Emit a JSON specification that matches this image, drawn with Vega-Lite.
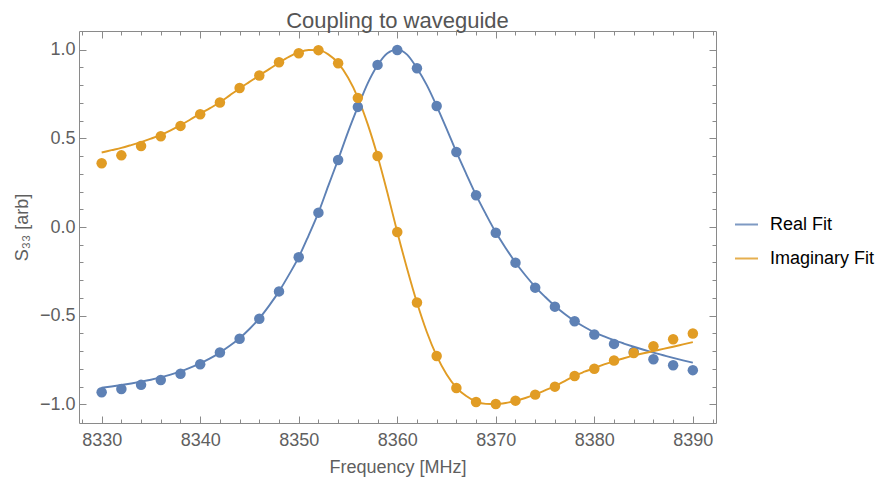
{
  "$schema": "https://vega.github.io/schema/vega-lite/v6.json",
  "width": 637,
  "height": 392,
  "autosize": {"type": "none"},
  "padding": {"left": 79, "top": 31, "right": 165, "bottom": 60},
  "background": "white",
  "title": {"text": "Coupling to waveguide", "fontSize": 22, "font": "Liberation Sans", "fontWeight": "normal", "color": "#555555", "anchor": "middle", "frame": "group", "baseline": "alphabetic", "offset": 4.5, "dy": 23.5},
  "config": {
    "view": {"stroke": "#8a8a8a", "strokeWidth": 1},
    "font": "Liberation Sans",
    "axis": {"grid": false, "domain": false, "tickColor": "#8a8a8a", "tickWidth": 1, "labelFont": "Liberation Sans", "labelFontSize": 18, "labelColor": "#5f5f5f", "titleFont": "Liberation Sans", "titleFontSize": 18, "titleFontWeight": "normal", "titleColor": "#5f5f5f", "labelOverlap": false, "labelFlush": false}
  },
  "datasets": {
    "fit": [
      {"f":8330,"v":-0.906,"s":"Real Fit"},{"f":8331,"v":-0.899,"s":"Real Fit"},{"f":8332,"v":-0.891,"s":"Real Fit"},{"f":8333,"v":-0.882,"s":"Real Fit"},{"f":8334,"v":-0.872,"s":"Real Fit"},{"f":8335,"v":-0.861,"s":"Real Fit"},{"f":8336,"v":-0.848,"s":"Real Fit"},{"f":8337,"v":-0.832,"s":"Real Fit"},{"f":8338,"v":-0.814,"s":"Real Fit"},{"f":8339,"v":-0.793,"s":"Real Fit"},
      {"f":8340,"v":-0.769,"s":"Real Fit"},{"f":8341,"v":-0.741,"s":"Real Fit"},{"f":8342,"v":-0.708,"s":"Real Fit"},{"f":8343,"v":-0.670,"s":"Real Fit"},{"f":8344,"v":-0.627,"s":"Real Fit"},{"f":8345,"v":-0.575,"s":"Real Fit"},{"f":8346,"v":-0.515,"s":"Real Fit"},{"f":8347,"v":-0.443,"s":"Real Fit"},{"f":8348,"v":-0.363,"s":"Real Fit"},{"f":8349,"v":-0.270,"s":"Real Fit"},
      {"f":8350,"v":-0.170,"s":"Real Fit"},{"f":8351,"v":-0.048,"s":"Real Fit"},{"f":8352,"v":0.081,"s":"Real Fit"},{"f":8353,"v":0.232,"s":"Real Fit"},{"f":8354,"v":0.380,"s":"Real Fit"},{"f":8355,"v":0.535,"s":"Real Fit"},{"f":8356,"v":0.677,"s":"Real Fit"},{"f":8357,"v":0.810,"s":"Real Fit"},{"f":8358,"v":0.912,"s":"Real Fit"},{"f":8359,"v":0.980,"s":"Real Fit"},
      {"f":8360,"v":1.0,"s":"Real Fit"},{"f":8361,"v":0.972,"s":"Real Fit"},{"f":8362,"v":0.895,"s":"Real Fit"},{"f":8363,"v":0.800,"s":"Real Fit"},{"f":8364,"v":0.682,"s":"Real Fit"},{"f":8365,"v":0.555,"s":"Real Fit"},{"f":8366,"v":0.423,"s":"Real Fit"},{"f":8367,"v":0.300,"s":"Real Fit"},{"f":8368,"v":0.180,"s":"Real Fit"},{"f":8369,"v":0.072,"s":"Real Fit"},
      {"f":8370,"v":-0.030,"s":"Real Fit"},{"f":8371,"v":-0.118,"s":"Real Fit"},{"f":8372,"v":-0.200,"s":"Real Fit"},{"f":8373,"v":-0.272,"s":"Real Fit"},{"f":8374,"v":-0.337,"s":"Real Fit"},{"f":8375,"v":-0.393,"s":"Real Fit"},{"f":8376,"v":-0.445,"s":"Real Fit"},{"f":8377,"v":-0.490,"s":"Real Fit"},{"f":8378,"v":-0.530,"s":"Real Fit"},{"f":8379,"v":-0.564,"s":"Real Fit"},
      {"f":8380,"v":-0.594,"s":"Real Fit"},{"f":8381,"v":-0.617,"s":"Real Fit"},{"f":8382,"v":-0.638,"s":"Real Fit"},{"f":8383,"v":-0.657,"s":"Real Fit"},{"f":8384,"v":-0.675,"s":"Real Fit"},{"f":8385,"v":-0.692,"s":"Real Fit"},{"f":8386,"v":-0.708,"s":"Real Fit"},{"f":8387,"v":-0.723,"s":"Real Fit"},{"f":8388,"v":-0.738,"s":"Real Fit"},{"f":8389,"v":-0.752,"s":"Real Fit"},
      {"f":8390,"v":-0.765,"s":"Real Fit"},
      {"f":8330,"v":0.420,"s":"Imaginary Fit"},{"f":8331,"v":0.433,"s":"Imaginary Fit"},{"f":8332,"v":0.446,"s":"Imaginary Fit"},{"f":8333,"v":0.462,"s":"Imaginary Fit"},{"f":8334,"v":0.479,"s":"Imaginary Fit"},{"f":8335,"v":0.498,"s":"Imaginary Fit"},{"f":8336,"v":0.519,"s":"Imaginary Fit"},{"f":8337,"v":0.545,"s":"Imaginary Fit"},{"f":8338,"v":0.574,"s":"Imaginary Fit"},{"f":8339,"v":0.606,"s":"Imaginary Fit"},
      {"f":8340,"v":0.639,"s":"Imaginary Fit"},{"f":8341,"v":0.670,"s":"Imaginary Fit"},{"f":8342,"v":0.703,"s":"Imaginary Fit"},{"f":8343,"v":0.742,"s":"Imaginary Fit"},{"f":8344,"v":0.781,"s":"Imaginary Fit"},{"f":8345,"v":0.818,"s":"Imaginary Fit"},{"f":8346,"v":0.855,"s":"Imaginary Fit"},{"f":8347,"v":0.890,"s":"Imaginary Fit"},{"f":8348,"v":0.926,"s":"Imaginary Fit"},{"f":8349,"v":0.959,"s":"Imaginary Fit"},
      {"f":8350,"v":0.984,"s":"Imaginary Fit"},{"f":8351,"v":0.998,"s":"Imaginary Fit"},{"f":8352,"v":0.997,"s":"Imaginary Fit"},{"f":8353,"v":0.973,"s":"Imaginary Fit"},{"f":8354,"v":0.924,"s":"Imaginary Fit"},{"f":8355,"v":0.843,"s":"Imaginary Fit"},{"f":8356,"v":0.730,"s":"Imaginary Fit"},{"f":8357,"v":0.580,"s":"Imaginary Fit"},{"f":8358,"v":0.400,"s":"Imaginary Fit"},{"f":8359,"v":0.193,"s":"Imaginary Fit"},
      {"f":8360,"v":-0.028,"s":"Imaginary Fit"},{"f":8361,"v":-0.235,"s":"Imaginary Fit"},{"f":8362,"v":-0.426,"s":"Imaginary Fit"},{"f":8363,"v":-0.592,"s":"Imaginary Fit"},{"f":8364,"v":-0.727,"s":"Imaginary Fit"},{"f":8365,"v":-0.830,"s":"Imaginary Fit"},{"f":8366,"v":-0.905,"s":"Imaginary Fit"},{"f":8367,"v":-0.953,"s":"Imaginary Fit"},{"f":8368,"v":-0.984,"s":"Imaginary Fit"},{"f":8369,"v":-0.997,"s":"Imaginary Fit"},
      {"f":8370,"v":-0.998,"s":"Imaginary Fit"},{"f":8371,"v":-0.992,"s":"Imaginary Fit"},{"f":8372,"v":-0.980,"s":"Imaginary Fit"},{"f":8373,"v":-0.964,"s":"Imaginary Fit"},{"f":8374,"v":-0.944,"s":"Imaginary Fit"},{"f":8375,"v":-0.921,"s":"Imaginary Fit"},{"f":8376,"v":-0.897,"s":"Imaginary Fit"},{"f":8377,"v":-0.869,"s":"Imaginary Fit"},{"f":8378,"v":-0.839,"s":"Imaginary Fit"},{"f":8379,"v":-0.816,"s":"Imaginary Fit"},
      {"f":8380,"v":-0.795,"s":"Imaginary Fit"},{"f":8381,"v":-0.775,"s":"Imaginary Fit"},{"f":8382,"v":-0.756,"s":"Imaginary Fit"},{"f":8383,"v":-0.740,"s":"Imaginary Fit"},{"f":8384,"v":-0.725,"s":"Imaginary Fit"},{"f":8385,"v":-0.712,"s":"Imaginary Fit"},{"f":8386,"v":-0.700,"s":"Imaginary Fit"},{"f":8387,"v":-0.687,"s":"Imaginary Fit"},{"f":8388,"v":-0.675,"s":"Imaginary Fit"},{"f":8389,"v":-0.662,"s":"Imaginary Fit"},
      {"f":8390,"v":-0.649,"s":"Imaginary Fit"}
    ],
    "pts": [
      {"f":8330,"v":-0.932,"s":"Real Fit"},{"f":8332,"v":-0.913,"s":"Real Fit"},{"f":8334,"v":-0.890,"s":"Real Fit"},{"f":8336,"v":-0.863,"s":"Real Fit"},{"f":8338,"v":-0.827,"s":"Real Fit"},{"f":8340,"v":-0.774,"s":"Real Fit"},{"f":8342,"v":-0.708,"s":"Real Fit"},{"f":8344,"v":-0.630,"s":"Real Fit"},{"f":8346,"v":-0.517,"s":"Real Fit"},{"f":8348,"v":-0.363,"s":"Real Fit"},
      {"f":8350,"v":-0.171,"s":"Real Fit"},{"f":8352,"v":0.081,"s":"Real Fit"},{"f":8354,"v":0.378,"s":"Real Fit"},{"f":8356,"v":0.677,"s":"Real Fit"},{"f":8358,"v":0.914,"s":"Real Fit"},{"f":8360,"v":0.998,"s":"Real Fit"},{"f":8362,"v":0.895,"s":"Real Fit"},{"f":8364,"v":0.682,"s":"Real Fit"},{"f":8366,"v":0.423,"s":"Real Fit"},{"f":8368,"v":0.179,"s":"Real Fit"},
      {"f":8370,"v":-0.032,"s":"Real Fit"},{"f":8372,"v":-0.201,"s":"Real Fit"},{"f":8374,"v":-0.342,"s":"Real Fit"},{"f":8376,"v":-0.449,"s":"Real Fit"},{"f":8378,"v":-0.531,"s":"Real Fit"},{"f":8380,"v":-0.606,"s":"Real Fit"},{"f":8382,"v":-0.659,"s":"Real Fit"},{"f":8384,"v":-0.705,"s":"Real Fit"},{"f":8386,"v":-0.746,"s":"Real Fit"},{"f":8388,"v":-0.779,"s":"Real Fit"},
      {"f":8390,"v":-0.807,"s":"Real Fit"},
      {"f":8330,"v":0.359,"s":"Imaginary Fit"},{"f":8332,"v":0.404,"s":"Imaginary Fit"},{"f":8334,"v":0.457,"s":"Imaginary Fit"},{"f":8336,"v":0.512,"s":"Imaginary Fit"},{"f":8338,"v":0.570,"s":"Imaginary Fit"},{"f":8340,"v":0.636,"s":"Imaginary Fit"},{"f":8342,"v":0.702,"s":"Imaginary Fit"},{"f":8344,"v":0.784,"s":"Imaginary Fit"},{"f":8346,"v":0.854,"s":"Imaginary Fit"},{"f":8348,"v":0.929,"s":"Imaginary Fit"},
      {"f":8350,"v":0.980,"s":"Imaginary Fit"},{"f":8352,"v":0.997,"s":"Imaginary Fit"},{"f":8354,"v":0.923,"s":"Imaginary Fit"},{"f":8356,"v":0.728,"s":"Imaginary Fit"},{"f":8358,"v":0.400,"s":"Imaginary Fit"},{"f":8360,"v":-0.028,"s":"Imaginary Fit"},{"f":8362,"v":-0.426,"s":"Imaginary Fit"},{"f":8364,"v":-0.727,"s":"Imaginary Fit"},{"f":8366,"v":-0.908,"s":"Imaginary Fit"},{"f":8368,"v":-0.987,"s":"Imaginary Fit"},
      {"f":8370,"v":-0.998,"s":"Imaginary Fit"},{"f":8372,"v":-0.979,"s":"Imaginary Fit"},{"f":8374,"v":-0.945,"s":"Imaginary Fit"},{"f":8376,"v":-0.900,"s":"Imaginary Fit"},{"f":8378,"v":-0.840,"s":"Imaginary Fit"},{"f":8380,"v":-0.799,"s":"Imaginary Fit"},{"f":8382,"v":-0.753,"s":"Imaginary Fit"},{"f":8384,"v":-0.710,"s":"Imaginary Fit"},{"f":8386,"v":-0.672,"s":"Imaginary Fit"},{"f":8388,"v":-0.633,"s":"Imaginary Fit"},
      {"f":8390,"v":-0.600,"s":"Imaginary Fit"}
    ]
  },
  "layer": [
    {
      "mark": {"type": "rule", "color": "#666666", "strokeWidth": 1},
      "encoding": {"y": {"datum": 0, "type": "quantitative", "scale": {"domain": [-1.105, 1.105], "nice": false, "zero": false}, "axis": null}}
    },
    {
      "data": {"name": "fit"},
      "mark": {"type": "line", "strokeWidth": 1.9, "interpolate": "monotone"},
      "encoding": {
        "x": {"field": "f", "type": "quantitative", "scale": {"domain": [8327.7, 8392.35], "nice": false, "zero": false},
          "axis": {"orient": "bottom", "title": "Frequency [MHz]", "values": [8328,8330,8332,8334,8336,8338,8340,8342,8344,8346,8348,8350,8352,8354,8356,8358,8360,8362,8364,8366,8368,8370,8372,8374,8376,8378,8380,8382,8384,8386,8388,8390,8392],
            "format": "d", "labelExpr": "datum.value % 10 === 0 ? datum.label : ''",
            "tickSize": {"condition": {"test": "datum.value % 10 === 0", "value": -7}, "value": -4},
            "labelPadding": 15, "titlePadding": 6}},
        "y": {"field": "v", "type": "quantitative", "scale": {"domain": [-1.105, 1.105], "nice": false, "zero": false},
          "axis": {"orient": "left", "title": "S₃₃ [arb]", "values": [-1,-0.9,-0.8,-0.7,-0.6,-0.5,-0.4,-0.3,-0.2,-0.1,0,0.1,0.2,0.3,0.4,0.5,0.6,0.7,0.8,0.9,1],
            "format": ".1f", "labelExpr": "abs(datum.value*2 - round(datum.value*2)) < 0.001 ? datum.label : ''",
            "tickSize": {"condition": {"test": "abs(datum.value*2 - round(datum.value*2)) < 0.001", "value": -7}, "value": -4},
            "labelPadding": 11, "titlePadding": 8}},
        "color": {"field": "s", "type": "nominal", "sort": null,
          "scale": {"domain": ["Real Fit", "Imaginary Fit"], "range": ["#5E81B5", "#E19C24"]},
          "legend": {"orient": "none", "legendX": 655, "legendY": 181, "title": null, "symbolType": "stroke", "symbolSize": 529, "symbolStrokeWidth": 2, "symbolOpacity": 0.8, "labelFontSize": 18, "labelFont": "Liberation Sans", "labelColor": "#000000", "labelOffset": 11, "rowPadding": 12, "padding": 0}}
      }
    },
    {
      "data": {"name": "pts"},
      "mark": {"type": "circle", "size": 110, "opacity": 1},
      "encoding": {
        "x": {"field": "f", "type": "quantitative",
          "axis": {"orient": "top", "title": null, "labels": false, "values": [8328,8330,8332,8334,8336,8338,8340,8342,8344,8346,8348,8350,8352,8354,8356,8358,8360,8362,8364,8366,8368,8370,8372,8374,8376,8378,8380,8382,8384,8386,8388,8390,8392],
            "tickSize": {"condition": {"test": "datum.value % 10 === 0", "value": -7}, "value": -4}}},
        "y": {"field": "v", "type": "quantitative",
          "axis": {"orient": "right", "title": null, "labels": false, "values": [-1,-0.9,-0.8,-0.7,-0.6,-0.5,-0.4,-0.3,-0.2,-0.1,0,0.1,0.2,0.3,0.4,0.5,0.6,0.7,0.8,0.9,1],
            "tickSize": {"condition": {"test": "abs(datum.value*2 - round(datum.value*2)) < 0.001", "value": -7}, "value": -4}}},
        "fill": {"field": "s", "type": "nominal", "sort": null,
          "scale": {"domain": ["Real Fit", "Imaginary Fit"], "range": ["#5E81B5", "#E19C24"]}, "legend": null}
      }
    }
  ],
  "resolve": {"axis": {"x": "independent", "y": "independent"}}
}
